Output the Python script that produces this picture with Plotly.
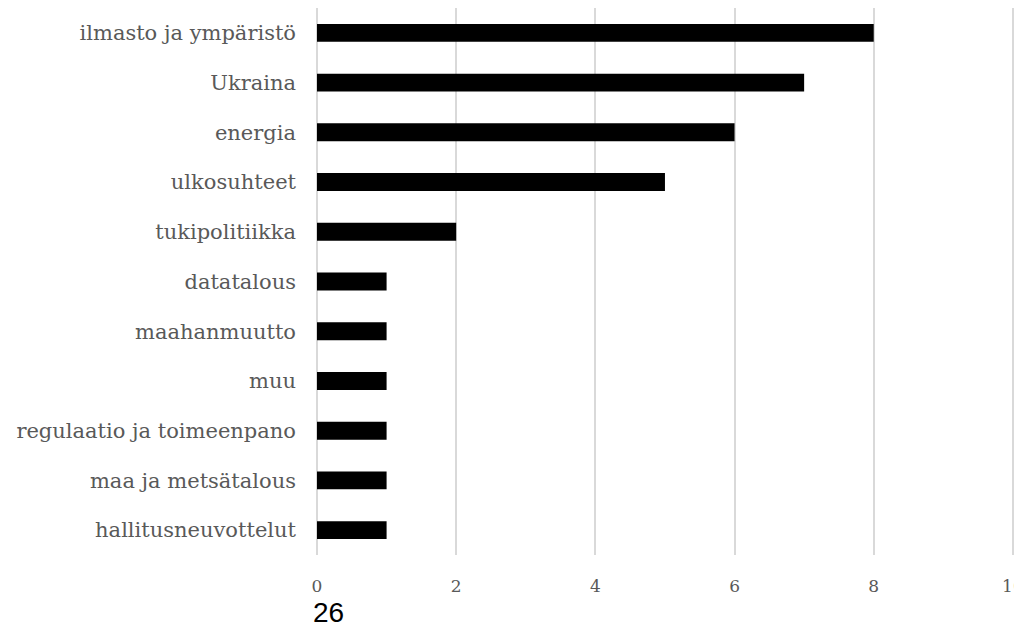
import plotly.graph_objects as go

categories = ["ilmasto ja ympäristö", "Ukraina", "energia", "ulkosuhteet", "tukipolitiikka",
              "datatalous", "maahanmuutto", "muu", "regulaatio ja toimeenpano",
              "maa ja metsätalous", "hallitusneuvottelut"]
values = [8, 7, 6, 5, 2, 1, 1, 1, 1, 1, 1]
tick_vals = [0, 2, 4, 6, 8, 10]
footer_text = "26"

fig = go.Figure(go.Bar(
    x=values, y=categories, orientation="h",
    marker=dict(color="#000000", line=dict(width=0)),
))

fig.update_layout(
    width=1014, height=620,
    margin=dict(l=309, r=7, t=0, b=73),
    paper_bgcolor="white", plot_bgcolor="white",
    bargap=0.64,
    showlegend=False,
    font=dict(family="DejaVu Serif, Georgia, serif", size=21, color="#595959"),
    xaxis=dict(range=[0, 10.03], tickvals=tick_vals, showgrid=True, gridcolor="#d9d9d9",
               gridwidth=1.5, zeroline=True, zerolinecolor="#d9d9d9", zerolinewidth=1.5,
               showline=False, ticks="", ticklen=0, automargin=False,
               ticklabeloverflow="allow",
               ticklabelstandoff=19, tickfont=dict(size=17)),
    yaxis=dict(autorange="reversed", showgrid=False, showline=False, ticks="",
               automargin=False, ticklabelstandoff=20, tickfont=dict(size=21)),
    annotations=[dict(text=footer_text, xref="paper", yref="paper", x=0, y=-0.106,
                      xanchor="left", yanchor="middle", showarrow=False, xshift=-6,
                      font=dict(family="Liberation Sans, Arial, sans-serif", size=28,
                                color="#000000"))],
)

fig.write_html("out.html")
